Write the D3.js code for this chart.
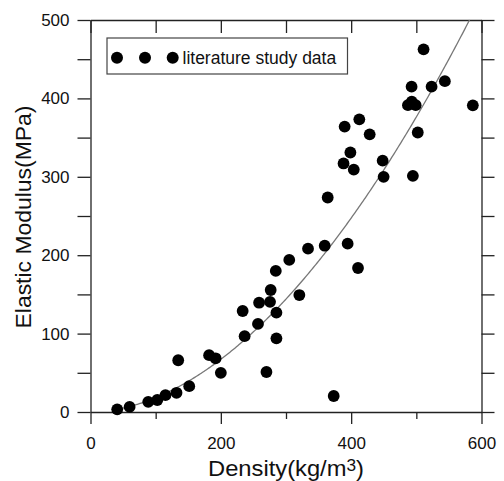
<!DOCTYPE html>
<html>
<head>
<meta charset="utf-8">
<script src="https://cdn.jsdelivr.net/npm/d3@7"></script>
<style>
  body { margin: 0; background: #fff; }
  svg { font-family: Arial, "Liberation Sans", sans-serif; }
  .axis path, .axis line { stroke: #222; stroke-width: 1.3; }
  .axis text { font-size: 17px; fill: #111; }
</style>
</head>
<body>
<div id="chart"></div>
<script>
// literature study data (density kg/m3, elastic modulus MPa)
const density = [41, 60, 88.6, 102.5, 115, 132, 134.6, 151.5, 182, 192, 200,
  233.5, 236.5, 257, 258.7, 270, 275.5, 276.5, 284.3, 285.3, 285.3, 305, 320.5,
  333.8, 359.4, 364, 373.2, 388.3, 390, 394.6, 398.8, 404, 412.5, 410.5, 428.4,
  448.3, 449.8, 487.1, 493, 499, 492.7, 494.7, 502.2, 511.1, 523.4, 543.8, 586.7]
const modulus = [3.4, 6.5, 13, 15.3, 21.5, 24.5, 66, 33, 72.5, 68.5, 50,
  128.8, 96.7, 112.4, 139.4, 51, 140.5, 155.6, 180, 126.7, 94, 194, 149.2,
  208.3, 212.1, 273.6, 20.4, 317, 364, 214.7, 331, 309.2, 373.3, 183.7, 354.2,
  320.6, 300, 391.4, 395.8, 391.4, 415, 301.2, 356.5, 462.6, 415, 422, 391.2]

// power-law fit E = a * rho^b
const fitA = 0.003173
const fitB = 1.88
const fitStart = 40

const xTicks = [0, 100, 200, 300, 400, 500, 600]
const xLabels = [0, 200, 400, 600]
const yTicks = [0, 50, 100, 150, 200, 250, 300, 350, 400, 450, 500]
const yLabels = [0, 100, 200, 300, 400, 500]
const legendLabel = 'literature study data'

const w = 504, h = 481
const margin = {top: 20, left: 90.5, right: 22.5, bottom: 69}
const mainW = w - margin.left - margin.right,
  mainH = h - margin.top - margin.bottom

const x = d3.scaleLinear().domain([0, 600]).range([0, mainW])
const y = d3.scaleLinear().domain([0, 500]).range([mainH, 0])

const svg = d3.select('#chart').append('svg').attr('width', w).attr('height', h)
const g = svg.append('g').attr('transform', `translate(${margin.left},${margin.top})`)

// axes
const bottom = g.append('g').classed('axis', true)
  .attr('transform', `translate(0,${mainH})`)
  .call(d3.axisBottom(x).tickValues(xTicks).tickSizeInner(12).tickSizeOuter(0).tickPadding(12.5)
    .tickFormat(d => xLabels.includes(d) ? d : ''))
bottom.selectAll('.tick line').attr('y2', d => xLabels.includes(d) ? 12 : 7)

g.append('g').classed('axis', true)
  .call(d3.axisLeft(y).tickValues(yTicks).tickSizeInner(13).tickSizeOuter(0).tickPadding(8)
    .tickFormat(d => yLabels.includes(d) ? d : ''))

g.append('g').classed('axis', true)
  .attr('transform', `translate(${mainW},0)`)
  .call(d3.axisLeft(y).tickValues(yTicks).tickSizeInner(-13).tickSizeOuter(0).tickFormat(''))

g.append('g').classed('axis', true)
  .call(d3.axisBottom(x).tickValues(xTicks).tickSizeInner(13).tickSizeOuter(0).tickFormat(''))

// fit curve
const fitEnd = Math.pow(500 / fitA, 1 / fitB)
const fitPts = d3.range(fitStart, fitEnd, 2).concat([fitEnd])
g.append('path')
  .datum(fitPts)
  .attr('fill', 'none').attr('stroke', '#777').attr('stroke-width', 1.3)
  .attr('d', d3.line().x(d => x(d)).y(d => y(fitA * Math.pow(d, fitB))))

// points
g.selectAll('.pt').data(density).enter().append('circle').classed('pt', true)
  .attr('cx', d => x(d)).attr('cy', (d, i) => y(modulus[i])).attr('r', 5.9)
  .attr('fill', '#000')

// legend
const legend = svg.append('g').attr('transform', 'translate(107,38)')
legend.append('rect').attr('width', 240.5).attr('height', 36)
  .attr('fill', '#fff').attr('stroke', '#444').attr('stroke-width', 1.2)
legend.selectAll('circle').data([10, 38, 65.7]).enter().append('circle')
  .attr('cx', d => d).attr('cy', 19.7).attr('r', 6).attr('fill', '#000')
legend.append('text').text(legendLabel).attr('x', 75.5).attr('y', 26.3)
  .attr('font-size', '17.5px').attr('fill', '#111')

// axis titles
const xt = svg.append('text').attr('x', margin.left + mainW / 2).attr('y', 476)
  .attr('text-anchor', 'middle').attr('font-size', '22px').attr('fill', '#111')
  .attr('textLength', 156).attr('lengthAdjust', 'spacingAndGlyphs')
xt.append('tspan').text('Density(kg/m')
xt.append('tspan').text('3').attr('font-size', '16px').attr('dy', -5)
xt.append('tspan').text(')').attr('dy', 5)

svg.append('text').text('Elastic Modulus(MPa)')
  .attr('transform', `translate(31,${margin.top + mainH / 2 + 1}) rotate(-90)`)
  .attr('text-anchor', 'middle').attr('font-size', '22px').attr('fill', '#111')
  .attr('textLength', 223).attr('lengthAdjust', 'spacingAndGlyphs')
</script>
</body>
</html>
